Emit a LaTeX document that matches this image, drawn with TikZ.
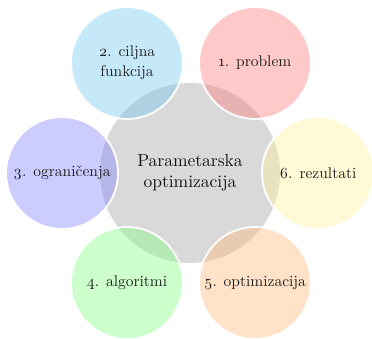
\documentclass[tikz,border=0pt]{standalone}
\usepackage{fontspec}
\setmainfont{lmroman10-regular.otf}[BoldFont=lmroman10-bold.otf,ItalicFont=lmroman10-italic.otf]
\begin{document}
\begin{tikzpicture}[x=1pt,y=1pt,
  outer/.style={circle,minimum size=112pt,inner sep=0pt,draw=white,line width=1.8pt,fill opacity=0.4,text opacity=1,text=black!88,align=center,font=\fontsize{15.5}{20}\selectfont\addfontfeatures{Numbers=OldStyle}},
  hub/.style={circle,minimum size=180pt,inner sep=0pt,fill=black!15,text=black!92,align=center,font=\fontsize{17.5}{21}\selectfont}]
\useasboundingbox (0,0) rectangle (372,339);
\node[hub] (c) at (190,166) {Parametarska\\optimizacija};
\node[outer,fill={rgb,255:red,255;green,120;blue,120}] (n1) at (255,276) {1. problem};
\node[outer,fill={rgb,255:red,110;green,200;blue,240}] (n2) at (127,276) {2. ciljna\\funkcija};
\node[outer,fill={rgb,255:red,128;green,128;blue,255}] (n3) at (62,166) {3. ograničenja};
\node[outer,fill={rgb,255:red,128;green,255;blue,128}] (n4) at (127,56) {4. algoritmi};
\node[outer,fill={rgb,255:red,255;green,183;blue,118}] (n5) at (255,56) {5. optimizacija};
\node[outer,fill={rgb,255:red,255;green,240;blue,153}] (n6) at (318,166) {6. rezultati};
\end{tikzpicture}
\end{document}
